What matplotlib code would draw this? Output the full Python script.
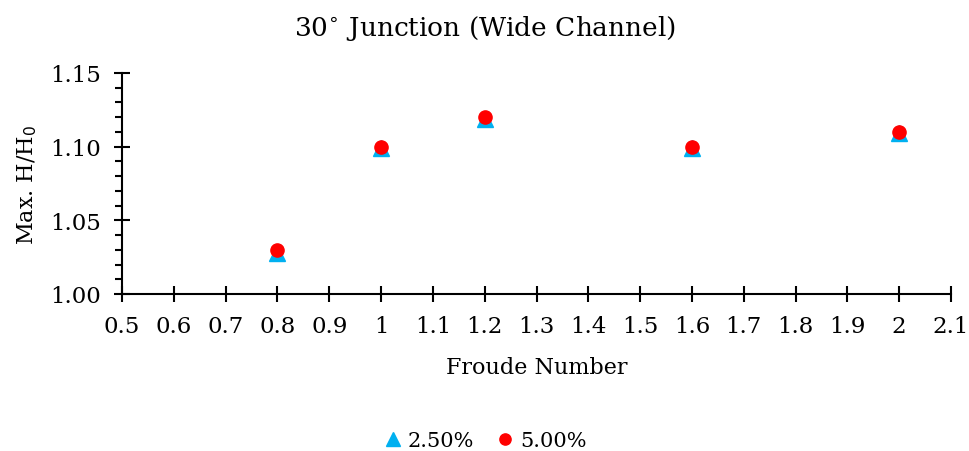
import numpy as np
import matplotlib
matplotlib.use('Agg')
import matplotlib.pyplot as plt
from matplotlib.ticker import MultipleLocator, FuncFormatter

plt.rcParams['font.family'] = ['DejaVu Serif']

froude = [0.8, 1.0, 1.2, 1.6, 2.0]
h_25 = [1.028, 1.099, 1.119, 1.099, 1.109]
h_50 = [1.03, 1.10, 1.12, 1.10, 1.11]

fig = plt.figure(figsize=(9.69, 4.52), dpi=100)
ax = fig.add_axes([122/969, 1 - 295/452, (951 - 122)/969, (295 - 74)/452])

ax.plot(froude, h_25, linestyle='none', marker='^', markersize=12, color='#00B0F0', label='2.50%')
ax.plot(froude, h_50, linestyle='none', marker='o', markersize=9.5, color='#FF0000', label='5.00%')

ax.set_xlim(0.5, 2.1)
ax.set_ylim(1.0, 1.15)
ax.xaxis.set_major_locator(MultipleLocator(0.1))
ax.yaxis.set_major_locator(MultipleLocator(0.05))
ax.yaxis.set_minor_locator(MultipleLocator(0.01))
ax.xaxis.set_major_formatter(FuncFormatter(lambda v, p: f'{v:g}' if abs(v - round(v)) > 1e-9 else f'{int(round(v))}'))
ax.yaxis.set_major_formatter(FuncFormatter(lambda v, p: f'{v:.2f}'))

for s in ['top', 'right']:
    ax.spines[s].set_visible(False)
for s in ['left', 'bottom']:
    ax.spines[s].set_linewidth(1.5)
ax.tick_params(which='major', direction='inout', length=12, width=1.5, labelsize=16.5, pad=9)
ax.tick_params(axis='y', which='minor', direction='out', length=5, width=1.5)

ax.set_xlabel('Froude Number', fontsize=16, labelpad=14)
ax.set_ylabel('Max. H/H$_0$', fontsize=16, labelpad=8)
fig.suptitle('30$^{\\circ}$ Junction (Wide Channel)', fontsize=19, y=0.97)

fig.legend(loc='lower center', bbox_to_anchor=(0.5, -0.04), ncol=2, frameon=False,
           fontsize=15, handletextpad=0.2, columnspacing=1.0, markerscale=0.85,
           handlelength=1.0)

fig.savefig('out.png', dpi=100)
plt.close('all')
